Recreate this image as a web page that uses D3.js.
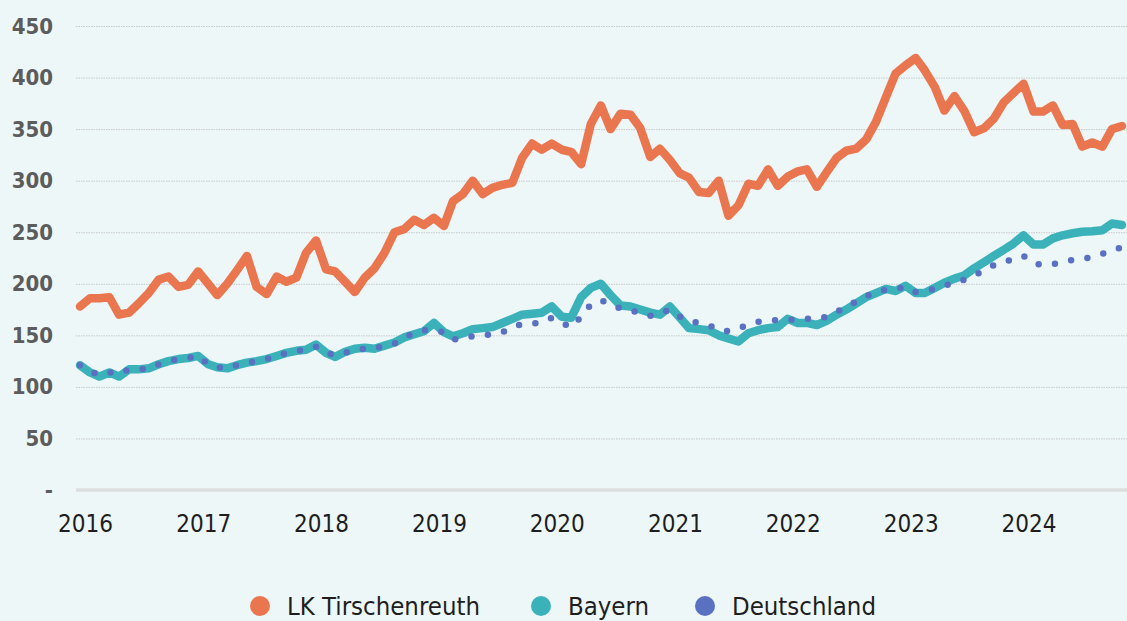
<!DOCTYPE html>
<html>
<head>
<meta charset="utf-8">
<script src="https://cdn.jsdelivr.net/npm/d3@7"></script>
<style>
  body { margin: 0; background: #edf7f8; }
  svg { display: block; }
  text { font-family: "DejaVu Sans Condensed", "DejaVu Sans", sans-serif; font-stretch: condensed; }
</style>
</head>
<body>
<div id="chart"></div>
<script>
// monthly index values, Jan 2016 .. Nov 2024
var startMonth = new Date(2016, 0, 1);

var tirschenreuth = [178, 186, 186, 187, 170, 172, 181, 191, 204, 207, 197, 199,
  212, 200, 189, 200, 213, 227, 197, 190, 207, 202, 206, 230,
  242, 214, 212, 202, 192, 206, 215, 230, 250, 253, 262, 257,
  264, 256, 280, 287, 300, 287, 293, 296, 298, 322, 336, 330,
  336, 330, 328, 316, 355, 373, 350, 365, 364, 351, 323, 331,
  320, 307, 303, 289, 288, 300, 266, 276, 297, 295, 311, 295,
  304, 309, 311, 294, 308, 322, 329, 331, 340, 357, 381, 404,
  412, 419, 407, 391, 368, 382, 368, 347, 351, 360, 376, 385,
  394, 367, 367, 373, 354, 355, 333, 337, 333, 350, 353];

var bayern = [121, 114, 110, 114, 110, 117, 117, 118, 122, 125, 127, 128,
  130, 122, 119, 118, 121, 123.5, 125, 127, 130, 133, 135, 136,
  141, 133, 129, 134, 137, 138, 137, 140, 143, 148, 151, 154,
  162, 153, 149, 152, 156, 157, 158, 162, 166, 170, 171, 172,
  178, 168, 167, 187, 196, 200, 189, 179, 178, 175, 172, 170,
  178, 167, 157, 156, 155, 150, 147, 144, 152, 155, 157, 158,
  166, 162, 162, 160, 164, 170, 175, 181, 187, 191, 195, 193,
  198, 191, 191, 196, 201, 205, 208, 215, 221, 227, 233, 239,
  247, 238, 238, 244, 247, 249, 250.5, 251, 252, 258.5, 257];

var deutschland = [121, 115, 112, 114, 113, 117, 117, 118, 122, 125, 127, 128,
  130, 122, 119, 118, 121, 123, 125, 127, 130, 133, 135, 136,
  139, 133, 131, 133, 136, 137, 137, 140, 142, 148, 152, 155,
  155, 153, 146, 147, 149, 150, 151, 153, 158, 161, 161, 163,
  167, 162, 158, 168, 180, 184, 180, 176, 174, 172, 169, 171,
  175, 168, 164, 162, 160, 155, 154, 157, 160, 163, 164, 165,
  165, 165, 166, 166, 168, 173, 177, 183, 188, 192, 194, 195,
  197, 192, 193, 195, 198, 201, 204, 208, 213, 218, 221, 224,
  227, 220, 218, 219, 221, 223, 224, 226, 229, 233, 235];

var yTicks = [0, 50, 100, 150, 200, 250, 300, 350, 400, 450];
var seriesNames = ["LK Tirschenreuth", "Bayern", "Deutschland"];
var seriesColors = ["#ea7650", "#3bb2ba", "#5a70c0"];

var W = 1127, H = 621;
var margin = {top: 26, right: 0, bottom: 131, left: 76};

var months = tirschenreuth.map(function(d, i) { return d3.timeMonth.offset(startMonth, i); });

var svg = d3.select("#chart").append("svg")
  .attr("width", W)
  .attr("height", H);

var x = d3.scaleTime()
  .domain([months[0], months[months.length - 1]])
  .range([80, 1122]);

var y = d3.scaleLinear()
  .domain([0, 450])
  .range([490, 26]);

// grid
svg.append("g")
  .attr("class", "grid")
  .attr("transform", "translate(" + margin.left + ",0)")
  .call(d3.axisLeft(y).tickValues(yTicks.slice(1)).tickSize(-(W - margin.left)).tickFormat(""))
  .call(function(g) { g.select(".domain").remove(); })
  .selectAll("line")
    .attr("stroke", "#c6c9ca")
    .attr("stroke-width", 1)
    .attr("stroke-dasharray", "1.5,1");

// baseline
svg.append("line")
  .attr("x1", margin.left).attr("x2", W)
  .attr("y1", y(0)).attr("y2", y(0))
  .attr("stroke", "#dcdedf")
  .attr("stroke-width", 3.5);

// y axis labels
svg.append("g")
  .attr("transform", "translate(53,0)")
  .call(d3.axisLeft(y).tickValues(yTicks).tickSize(0).tickPadding(0)
    .tickFormat(function(d) { return d === 0 ? "-" : d; }))
  .call(function(g) { g.select(".domain").remove(); })
  .selectAll("text")
    .attr("fill", "#5c5c5c")
    .style("font-size", "22px")
    .style("font-weight", "bold");

// x axis labels
svg.append("g")
  .attr("transform", "translate(5,515)")
  .call(d3.axisBottom(x).ticks(d3.timeYear.every(1)).tickSize(0).tickPadding(0)
    .tickFormat(d3.timeFormat("%Y")))
  .call(function(g) { g.select(".domain").remove(); })
  .selectAll("text")
    .attr("fill", "#1e1e1e")
    .style("font-size", "24px");

var line = d3.line()
  .x(function(d, i) { return x(months[i]); })
  .y(function(d) { return y(d); });

svg.append("path")
  .datum(tirschenreuth)
  .attr("d", line)
  .attr("fill", "none")
  .attr("stroke", seriesColors[0])
  .attr("stroke-width", 8.5)
  .attr("stroke-linejoin", "round")
  .attr("stroke-linecap", "round");

svg.append("path")
  .datum(bayern)
  .attr("d", line)
  .attr("fill", "none")
  .attr("stroke", seriesColors[1])
  .attr("stroke-width", 8.5)
  .attr("stroke-linejoin", "round")
  .attr("stroke-linecap", "round");

svg.append("path")
  .datum(deutschland)
  .attr("d", line)
  .attr("fill", "none")
  .attr("stroke", seriesColors[2])
  .attr("stroke-width", 6.5)
  .attr("stroke-dasharray", "0,16.5")
  .attr("stroke-linecap", "round");

// legend
var legendX = [260, 541, 705];
var legend = svg.append("g");
seriesNames.forEach(function(name, i) {
  legend.append("circle")
    .attr("cx", legendX[i])
    .attr("cy", 606)
    .attr("r", 10)
    .attr("fill", seriesColors[i]);
  legend.append("text")
    .attr("x", legendX[i] + 27)
    .attr("y", 615)
    .attr("fill", "#1e1e1e")
    .style("font-size", "25.5px")
    .text(name);
});
</script>
</body>
</html>
